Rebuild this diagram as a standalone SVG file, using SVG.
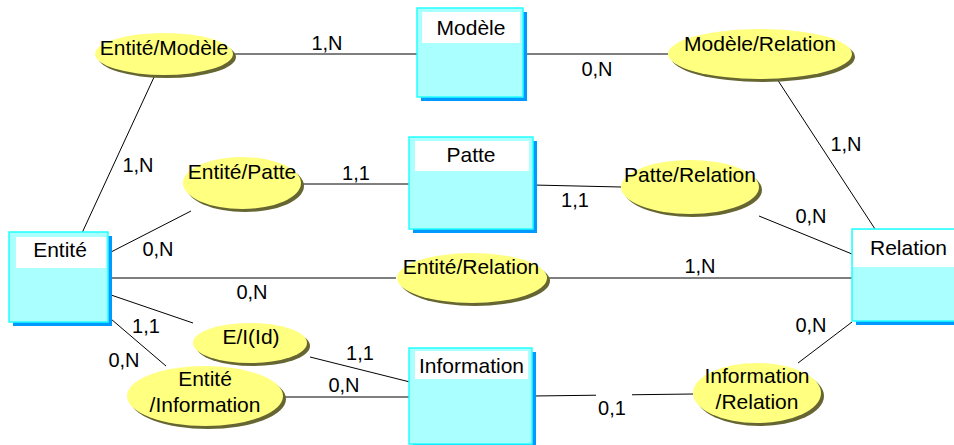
<svg xmlns="http://www.w3.org/2000/svg" width="954" height="445" viewBox="0 0 954 445">
<style>
.bg{fill:#ffffff}
.ln{stroke:#000000;stroke-width:1;fill:none}
.shd{fill:#0099ff}
.box{fill:#aaffff;stroke:#22ffff;stroke-width:1.5}
.hdr{fill:#ffffff}
.esh{fill:#666633}
.ell{fill:#ffff80}
.t{font-family:"Liberation Sans",Arial,sans-serif;font-size:21px;fill:#000000}
.c{text-anchor:middle}
.lab{font-family:"Liberation Sans",Arial,sans-serif;font-size:20px;fill:#000000;text-anchor:middle}
.lbg{fill:#ffffff}
</style>
<rect class="bg" x="0" y="0" width="954" height="445"/>

<g id="connectors">
<line class="ln" x1="233" y1="54" x2="417" y2="54"/>
<line class="ln" x1="524" y1="54" x2="668" y2="54"/>
<line class="ln" x1="155" y1="75" x2="82" y2="233"/>
<line class="ln" x1="777" y1="79" x2="875" y2="229"/>
<line class="ln" x1="302" y1="184" x2="409" y2="184"/>
<line class="ln" x1="111" y1="252" x2="191" y2="211"/>
<line class="ln" x1="533" y1="185" x2="621" y2="187"/>
<line class="ln" x1="759" y1="216" x2="852" y2="254"/>
<line class="ln" x1="108" y1="278" x2="396" y2="278"/>
<line class="ln" x1="547" y1="278" x2="852" y2="278"/>
<line class="ln" x1="111" y1="295" x2="193" y2="323"/>
<line class="ln" x1="111" y1="319" x2="166" y2="366"/>
<line class="ln" x1="310" y1="357" x2="410" y2="382"/>
<line class="ln" x1="284" y1="397" x2="410" y2="397"/>
<line class="ln" x1="533" y1="396" x2="693" y2="394"/>
<line class="ln" x1="798" y1="363" x2="852" y2="322"/>

<rect class="lbg" x="307" y="35" width="40" height="18"/>
<text class="lab" x="327" y="50">1,N</text>
<rect class="lbg" x="577" y="59" width="40" height="20"/>
<text class="lab" x="597" y="76">0,N</text>
<rect class="lbg" x="121" y="155" width="34" height="20"/>
<text class="lab" x="138" y="172">1,N</text>
<rect class="lbg" x="827" y="134" width="37" height="20"/>
<text class="lab" x="846" y="151">1,N</text>
<rect class="lbg" x="339" y="163" width="35" height="20"/>
<text class="lab" x="356" y="180">1,1</text>
<rect class="lbg" x="141" y="239" width="35" height="20"/>
<text class="lab" x="158" y="256">0,N</text>
<rect class="lbg" x="558" y="188" width="36" height="22"/>
<text class="lab" x="575" y="207">1,1</text>
<rect class="lbg" x="793" y="206" width="36" height="20"/>
<text class="lab" x="811" y="223">0,N</text>
<rect class="lbg" x="235" y="282" width="35" height="20"/>
<text class="lab" x="252" y="299">0,N</text>
<rect class="lbg" x="681" y="256" width="39" height="21"/>
<text class="lab" x="700" y="273">1,N</text>
<rect class="lbg" x="131" y="316" width="30" height="20"/>
<text class="lab" x="146" y="333">1,1</text>
<rect class="lbg" x="106" y="350" width="35" height="20"/>
<text class="lab" x="124" y="367">0,N</text>
<rect class="lbg" x="345" y="343" width="30" height="13"/>
<text class="lab" x="360" y="360">1,1</text>
<rect class="lbg" x="326" y="375" width="36" height="20"/>
<text class="lab" x="344" y="392">0,N</text>
<rect class="lbg" x="596" y="393" width="36" height="25"/>
<text class="lab" x="612" y="415">0,1</text>
<rect class="lbg" x="793" y="315" width="36" height="20"/>
<text class="lab" x="811" y="332">0,N</text>
</g>

<g id="Modele">
<rect class="shd" x="421" y="12" width="106" height="89"/>
<rect class="box" x="417" y="8" width="106" height="89"/>
<rect class="hdr" x="422" y="12" width="98" height="31"/>
<text class="t c" x="471" y="35">Modèle</text>
</g>
<g id="Patte">
<rect class="shd" x="413" y="141" width="124" height="92"/>
<rect class="box" x="409" y="137" width="124" height="92"/>
<rect class="hdr" x="415" y="141" width="114" height="30"/>
<text class="t c" x="471" y="162">Patte</text>
</g>
<g id="Entite">
<rect class="shd" x="13" y="236" width="99" height="90"/>
<rect class="box" x="9" y="232" width="99" height="90"/>
<rect class="hdr" x="16" y="237" width="90" height="31"/>
<text class="t c" x="60" y="257">Entité</text>
</g>
<g id="Information">
<rect class="shd" x="413" y="352" width="123" height="100"/>
<rect class="box" x="409" y="348" width="123" height="96"/>
<rect class="hdr" x="415" y="351" width="113" height="28"/>
<text class="t" x="419" y="373">Information</text>
</g>
<g id="Relation">
<rect class="shd" x="856" y="233" width="110" height="92"/>
<rect class="box" x="852" y="229" width="110" height="92"/>
<rect class="hdr" x="853" y="230" width="101" height="37"/>
<text class="t" x="870" y="255">Relation</text>
</g>

<g id="Entite_Modele">
<ellipse class="esh" cx="167" cy="57" rx="69" ry="21"/>
<ellipse class="ell" cx="164" cy="54" rx="69" ry="21"/>
<text class="t c" x="164" y="55">Entité/Modèle</text>
</g>
<g id="Modele_Relation">
<ellipse class="esh" cx="763" cy="57" rx="92" ry="25"/>
<ellipse class="ell" cx="760" cy="54" rx="92" ry="25"/>
<text class="t c" x="760" y="51">Modèle/Relation</text>
</g>
<g id="Entite_Patte">
<ellipse class="esh" cx="245" cy="186" rx="59" ry="26"/>
<ellipse class="ell" cx="242" cy="183" rx="59" ry="26"/>
<text class="t c" x="242" y="179">Entité/Patte</text>
</g>
<g id="Patte_Relation">
<ellipse class="esh" cx="693" cy="190" rx="69" ry="27"/>
<ellipse class="ell" cx="690" cy="187" rx="69" ry="27"/>
<text class="t c" x="690" y="182">Patte/Relation</text>
</g>
<g id="Entite_Relation">
<ellipse class="esh" cx="475" cy="281" rx="75" ry="25"/>
<ellipse class="ell" cx="472" cy="278" rx="75" ry="25"/>
<text class="t c" x="471" y="274">Entité/Relation</text>
</g>
<g id="E_I_Id">
<ellipse class="esh" cx="253" cy="346" rx="57" ry="20"/>
<ellipse class="ell" cx="250" cy="343" rx="57" ry="20"/>
<text class="t c" x="251" y="344">E/I(Id)</text>
</g>
<g id="Entite_Information">
<ellipse class="esh" cx="208" cy="399" rx="78" ry="30"/>
<ellipse class="ell" cx="205" cy="396" rx="78" ry="30"/>
<text class="t c" x="205" y="386">Entité</text>
<text class="t c" x="205" y="412">/Information</text>
</g>
<g id="Information_Relation">
<ellipse class="esh" cx="760" cy="396" rx="64" ry="30"/>
<ellipse class="ell" cx="757" cy="393" rx="64" ry="30"/>
<text class="t c" x="757" y="383">Information</text>
<text class="t c" x="757" y="409">/Relation</text>
</g>
</svg>
